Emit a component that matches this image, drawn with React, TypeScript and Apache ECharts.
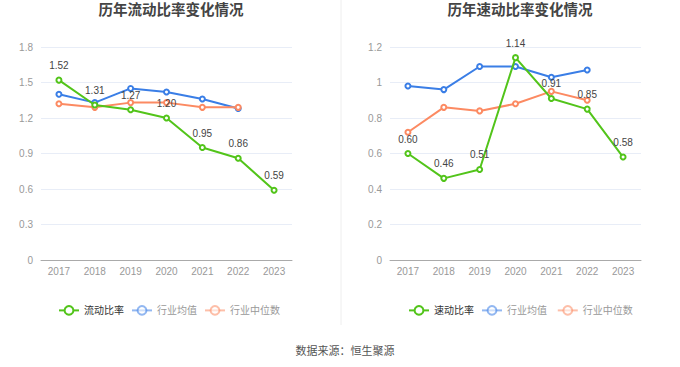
import React, { useEffect, useRef } from "react";
import * as echarts from "echarts";

const years = ["2017", "2018", "2019", "2020", "2021", "2022", "2023"];
const currentRatio = [1.52, 1.31, 1.27, 1.2, 0.95, 0.86, 0.59];
const currentAvg = [1.4, 1.33, 1.45, 1.42, 1.36, 1.28, null];
const currentMedian = [1.32, 1.29, 1.33, 1.33, 1.29, 1.29, null];
const quickRatio = [0.6, 0.46, 0.51, 1.14, 0.91, 0.85, 0.58];
const quickAvg = [0.98, 0.96, 1.09, 1.09, 1.03, 1.07, null];
const quickMedian = [0.72, 0.86, 0.84, 0.88, 0.95, 0.9, null];
const leftTicks = { min: 0, max: 1.8, interval: 0.3 };
const rightTicks = { min: 0, max: 1.2, interval: 0.2 };

const GREEN = "#52c41a";
const BLUE = "#3a7ee6";
const ORANGE = "#fc8a62";
const FONT = "'Liberation Sans', 'Noto Sans CJK SC', sans-serif";

export default function App() {
  const ref = useRef<HTMLDivElement>(null);
  useEffect(() => {
    const chart = echarts.init(ref.current!, null, { renderer: "svg" });
    const mkX = (gi: number) => ({
      type: "category",
      gridIndex: gi,
      data: years,
      axisLine: { lineStyle: { color: "#aaa" } },
      axisTick: { show: false },
      axisLabel: { color: "#999", fontSize: 10, margin: 6 },
    });
    const mkY = (gi: number, t: any) => ({
      type: "value",
      gridIndex: gi,
      min: t.min,
      max: t.max,
      interval: t.interval,
      axisLine: { show: false },
      axisTick: { show: false },
      axisLabel: { color: "#999", fontSize: 10, margin: 8 },
      splitLine: { lineStyle: { color: "#e8edf7" } },
    });
    const mkS = (name: string, data: any[], color: string, gi: number, label: boolean) => ({
      type: "line",
      name,
      data,
      xAxisIndex: gi,
      yAxisIndex: gi,
      symbol: "emptyCircle",
      symbolSize: 5,
      lineStyle: { color, width: 2 },
      itemStyle: { color },
      z: label ? 3 : 2,
      label: label
        ? { show: true, position: "top", color: "#444", fontSize: 10, formatter: (p: any) => p.value.toFixed(2), distance: 6 }
        : { show: false },
    });
    const mkLegend = (names: string[], left: number) => ({
      top: 300,
      left,
      itemGap: 7,
      itemWidth: 20,
      itemHeight: 11,
      textStyle: { fontSize: 10, color: "#333" },
      data: names.map((n, i) =>
        i === 0
          ? { name: n }
          : {
              name: n,
              textStyle: { color: "#999" },
              itemStyle: { opacity: 0.55 },
              lineStyle: { opacity: 0.55 },
            }
      ),
    });
    chart.setOption({
      animation: false,
      backgroundColor: "#fff",
      textStyle: { fontFamily: FONT },
      title: [
        { text: "历年流动比率变化情况", left: 166, textAlign: "center", top: -2, textStyle: { fontSize: 14.5, fontWeight: "bold", color: "#444" } },
        { text: "历年速动比率变化情况", left: 515, textAlign: "center", top: -2, textStyle: { fontSize: 14.5, fontWeight: "bold", color: "#444" } },
        { text: "数据来源：恒生聚源", left: 340, textAlign: "center", top: 340, textStyle: { fontSize: 11, fontWeight: "normal", color: "#555" } },
      ],
      legend: [
        mkLegend(["流动比率", "行业均值", "行业中位数"], 53),
        mkLegend(["速动比率", "行业均值 ", "行业中位数 "], 403),
      ],
      grid: [
        { left: 41, right: 388, top: 47, height: 213 },
        { left: 390, right: 39, top: 47, height: 213 },
      ],
      xAxis: [mkX(0), mkX(1)],
      yAxis: [mkY(0, leftTicks), mkY(1, rightTicks)],
      series: [
        mkS("行业均值", currentAvg, BLUE, 0, false),
        mkS("行业中位数", currentMedian, ORANGE, 0, false),
        mkS("流动比率", currentRatio, GREEN, 0, true),
        mkS("行业均值 ", quickAvg, BLUE, 1, false),
        mkS("行业中位数 ", quickMedian, ORANGE, 1, false),
        mkS("速动比率", quickRatio, GREEN, 1, true),
      ],
      graphic: [
        { type: "line", shape: { x1: 341, y1: 0, x2: 341, y2: 325 }, style: { stroke: "#eee", lineWidth: 1 } },
      ],
    });
    return () => chart.dispose();
  }, []);
  return <div ref={ref} style={{ width: 680, height: 367, position: "absolute", left: 0, top: 0 }} />;
}
